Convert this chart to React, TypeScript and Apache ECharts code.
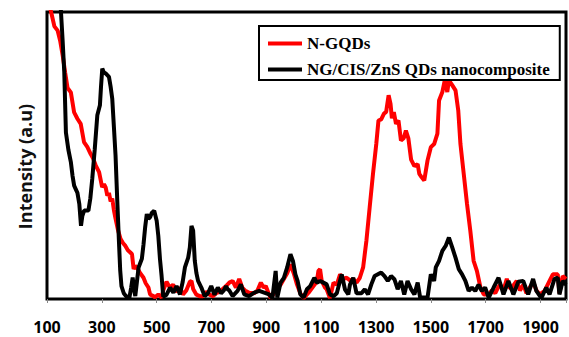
import React, { useEffect, useRef } from "react";
import * as echarts from "echarts";

const xTickLabels = ["100", "300", "500", "700", "900", "1100", "1300", "1500", "1700", "1900"];
const seriesNames = ["N-GQDs", "NG/CIS/ZnS QDs nanocomposite"];

const redX = [100, 115, 127, 139, 148, 157, 166, 175, 187, 199, 211, 223, 235, 247, 259, 268, 278, 290, 301, 308, 314, 320, 326, 332, 338, 344, 350, 359, 368, 377, 386, 395, 404, 410, 416, 422, 428, 440, 452, 460, 470, 476, 488, 494, 506, 518, 524, 536, 548, 560, 572, 584, 596, 608, 621, 627, 633, 645, 657, 669, 681, 693, 705, 717, 729, 741, 753, 765, 777, 789, 801, 812, 822, 837, 856, 868, 880, 890, 898, 908, 916, 928, 940, 952, 964, 976, 988, 1000, 1012, 1024, 1036, 1054, 1072, 1084, 1090, 1096, 1102, 1114, 1120, 1132, 1145, 1157, 1169, 1181, 1193, 1205, 1217, 1229, 1241, 1253, 1265, 1277, 1289, 1301, 1309, 1319, 1329, 1337, 1346, 1353, 1358, 1365, 1373, 1382, 1391, 1401, 1409, 1418, 1428, 1440, 1452, 1458, 1466, 1476, 1488, 1500, 1512, 1524, 1530, 1542, 1552, 1560, 1566, 1578, 1590, 1600, 1608, 1620, 1632, 1644, 1656, 1668, 1681, 1693, 1711, 1723, 1735, 1745, 1753, 1765, 1777, 1787, 1795, 1803, 1813, 1825, 1837, 1849, 1861, 1873, 1885, 1897, 1915, 1933, 1945, 1963, 1969, 1981, 1993];
const redY = [106, 100, 95, 93.5, 90, 85, 79, 73.5, 72, 65, 62.8, 61, 54.7, 53, 50.6, 49, 46.5, 44.2, 39, 40, 38.9, 36, 37, 34, 35, 31, 28, 24, 21, 19.5, 18.5, 17, 16.2, 15.6, 10.4, 11.5, 11, 9, 7.4, 5.5, 4, 1.6, 1, 0.6, 1.6, 0.5, 3, 6, 4, 5, 2.5, 4, 1.6, 3, 6, 6.3, 3.5, 1.5, 1, 1, 2.5, 1.5, 1, 2, 2.5, 3.5, 4.5, 5.7, 6.3, 4, 7, 4, 3, 2.2, 2, 3, 5.7, 4, 4.5, 2, 0.3, 2, 4, 5, 7, 9, 12, 9, 5, 2, 0.3, 2.2, 4.5, 6, 9.8, 10.4, 6.3, 4, 3.4, 0.3, 5.7, 5, 8.6, 7, 7.4, 6.5, 6.9, 5.7, 7.4, 11, 20.3, 32, 43.6, 54, 62.2, 62.6, 64.6, 65.2, 71, 68, 63, 65.1, 61, 62.2, 55.2, 56, 58.7, 56, 48.6, 46.3, 47, 43.6, 42.5, 41.3, 48.3, 52.9, 54, 57.6, 69.2, 72.1, 76.8, 72.1, 76.2, 74.5, 72.7, 65.7, 54, 43.6, 33.1, 23.8, 13.3, 9.8, 4, 1.6, 1.6, 3, 2, 4, 5, 3, 7, 4, 3.4, 5, 6.3, 3, 5, 2, 4, 6, 3, 1.6, 2.8, 6.3, 8.6, 8.6, 2, 8, 7];

const blackX = [140, 151, 157, 163, 169, 178, 187, 193, 199, 211, 218, 224, 229, 235.5, 251, 258, 265, 274, 283.5, 293, 297, 301.6, 307, 314, 320, 326, 332, 338, 344, 350, 356, 362, 367, 371.6, 380, 388, 400.5, 407, 412.5, 418, 422, 428, 434, 446, 452, 458, 464, 470, 476, 482, 491, 500, 506, 512, 518, 524, 536, 549, 561, 572.5, 585, 595, 603, 615, 621, 627, 633, 639, 645, 651, 663, 675, 687, 699, 711, 723, 735, 745, 753, 759, 765, 777, 795, 807, 819.5, 837, 856, 874, 892, 910, 922, 934, 940, 952, 964, 976, 988, 997, 1006, 1014, 1024, 1036, 1048, 1060, 1075, 1084, 1096, 1108, 1120, 1132, 1145, 1157, 1175, 1187, 1199, 1205, 1217, 1229, 1247, 1259, 1271, 1283, 1295, 1307, 1319, 1331, 1343, 1355, 1367, 1379, 1391, 1403, 1415, 1428, 1440, 1452, 1461, 1488, 1500, 1512, 1518, 1530, 1542, 1554, 1566, 1578, 1590, 1602, 1614, 1626, 1638, 1650, 1662, 1674, 1686, 1698, 1711, 1729, 1747, 1765, 1783, 1801, 1819, 1837, 1855, 1873, 1885, 1903, 1921, 1933, 1951, 1963, 1969, 1981, 1993];
const blackY = [115, 100, 90, 79, 58, 52, 47.7, 43, 39.5, 37, 33, 25.5, 29, 30.8, 30.8, 35, 41.8, 52, 64, 67.5, 74, 80.3, 79, 78.6, 78, 77.4, 74, 69.8, 60, 50, 35, 20.9, 10, 4.5, 2, 1, 0.5, 4, 7.5, 3, 1, 6, 11, 14, 19, 25, 29.6, 27.9, 28.5, 30, 30.8, 27.3, 22, 14, 8, 0.8, 1.5, 4, 2.2, 4.5, 1.6, 6, 11, 14.4, 18, 25.5, 23.8, 13.3, 9, 6.3, 4, 1, 2, 4.5, 1.5, 4, 2, 3, 4.5, 3.4, 3, 1, 2.8, 5.1, 1.6, 1, 2.2, 2.8, 2.2, 1.6, 0.3, 9.8, 0.5, 5.7, 7.4, 11, 15.6, 13.3, 8.6, 6.3, 1.6, 0.5, 3.4, 4.5, 7.4, 5.7, 6.3, 5.7, 5.1, 1.6, 1, 2, 8.6, 3.3, 1.6, 5, 7.4, 2, 2, 3.4, 1.6, 5.1, 8, 8.6, 9.2, 8, 6.3, 8, 6.9, 3.4, 6.3, 1.6, 6.3, 3.4, 1.6, 5.7, 0.5, 0.5, 8.6, 6.3, 11, 13.3, 16.8, 18.5, 21.4, 18, 14.4, 10.4, 8.6, 6.3, 2.8, 4, 2.8, 5, 2.8, 4, 0.5, 4, 7.4, 1.6, 6.3, 1.6, 6, 6.3, 1.6, 7, 2.8, 0.3, 4, 1.6, 7, 7.4, 1.6, 6.3, 5];

const pairs = (xs: number[], ys: number[]) => xs.map((x, i) => [x, ys[i]]);

export default function App() {
  const ref = useRef<HTMLDivElement>(null);
  useEffect(() => {
    if (!ref.current) return;
    const chart = echarts.init(ref.current, null, { renderer: "svg" });
    chart.setOption({
      animation: false,
      backgroundColor: "#fff",
      grid: {
        show: true,
        left: 47,
        top: 12,
        width: 525,
        height: 287,
        borderColor: "#000",
        borderWidth: 3,
        backgroundColor: "transparent",
      },
      legend: {
        orient: "vertical",
        left: 259,
        top: 26,
        padding: [9, 10, 2, 9],
        borderColor: "#000",
        borderWidth: 2,
        backgroundColor: "#fff",
        itemWidth: 34,
        itemHeight: 4,
        itemGap: 9,
        icon: "rect",
        data: seriesNames,
        textStyle: {
          fontFamily: "Liberation Serif",
          fontWeight: "bold",
          fontSize: 17,
          lineHeight: 17,
          color: "#000",
        },
      },
      xAxis: {
        type: "value",
        min: 100,
        max: 1993,
        interval: 200,
        splitLine: { show: false },
        axisLine: { show: true, lineStyle: { color: "#000", width: 2 } },
        axisTick: { show: true, length: 4, lineStyle: { color: "#888", width: 1 } },
        axisLabel: {
          margin: 20,
          fontFamily: "Open Sans",
          fontWeight: "bold",
          fontSize: 16,
          color: "#000",
          formatter: (v: number) => (xTickLabels.includes(String(v)) ? String(v) : ""),
        },
      },
      yAxis: {
        type: "value",
        min: 0,
        max: 100,
        splitLine: { show: false },
        axisLine: { show: false },
        axisTick: { show: false },
        axisLabel: { show: false },
        name: "Intensity (a.u)",
        nameLocation: "middle",
        nameRotate: 90,
        nameGap: 12,
        nameTextStyle: {
          fontFamily: "Open Sans",
          fontWeight: "bold",
          fontSize: 18,
          lineHeight: 20,
          color: "#111",
          padding: [0, 22, 0, 0],
        },
      },
      series: [
        {
          name: seriesNames[0],
          type: "line",
          data: pairs(redX, redY),
          showSymbol: false,
          symbol: "none",
          clip: true,
          color: "#ff0000",
          lineStyle: { color: "#ff0000", width: 4 },
          z: 2,
        },
        {
          name: seriesNames[1],
          type: "line",
          data: pairs(blackX, blackY),
          showSymbol: false,
          symbol: "none",
          clip: true,
          color: "#000",
          lineStyle: { color: "#000", width: 4 },
          z: 3,
        },
      ],
    });
    return () => chart.dispose();
  }, []);
  return (
    <div
      ref={ref}
      style={{ position: "fixed", left: 0, top: 0, width: 569, height: 337 }}
    />
  );
}
